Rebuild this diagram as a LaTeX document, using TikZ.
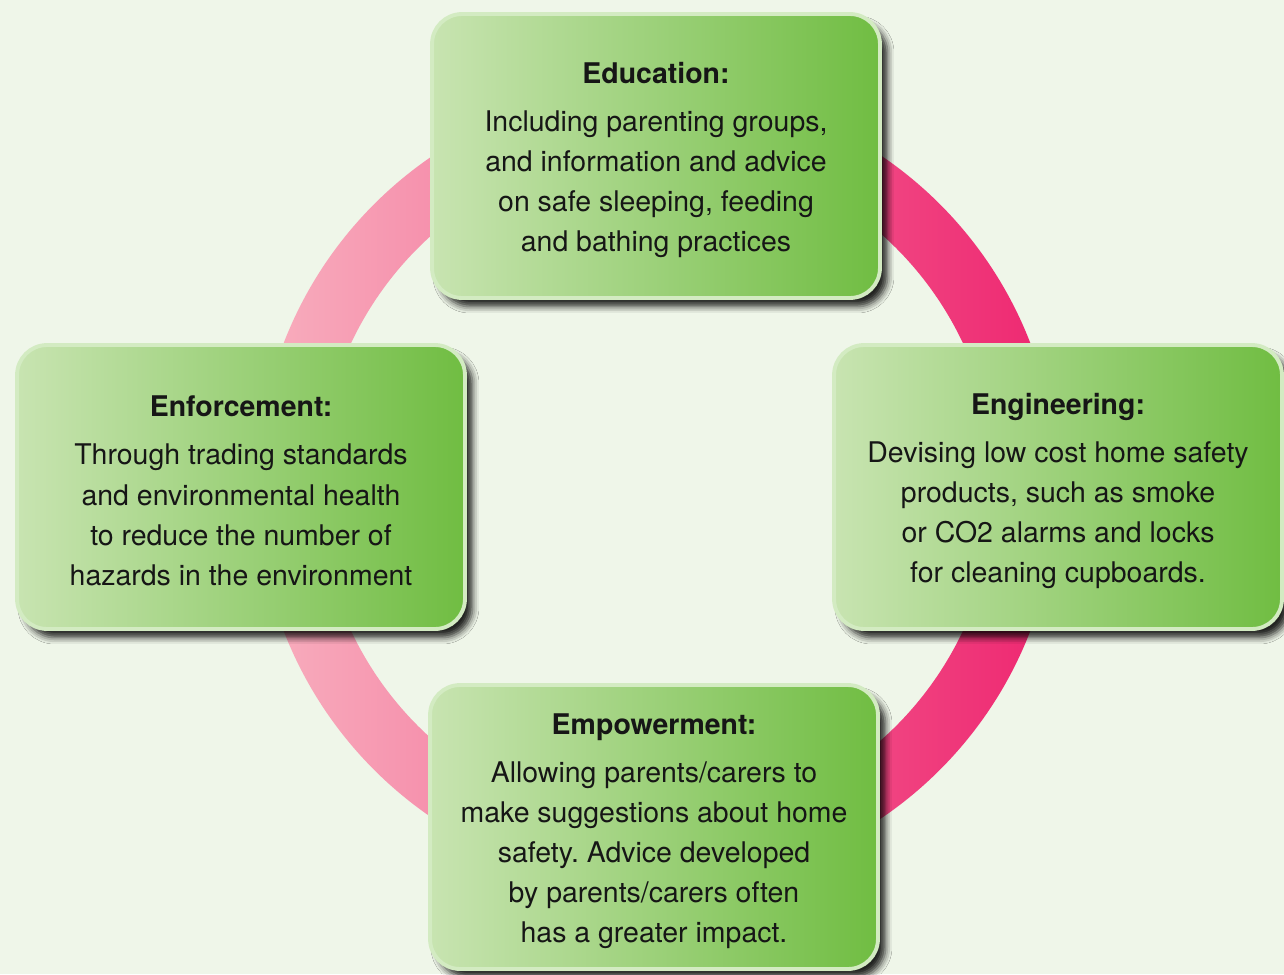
\documentclass[tikz,border=0pt]{standalone}
\usepackage{fontspec}
\setmainfont{TeX Gyre Heros}
\usetikzlibrary{%
  shadows.blur,% soft drop shadow
  positioning%
}
\frenchspacing
\definecolor{pagebg}{HTML}{EFF6E9}
\definecolor{ringlight}{HTML}{F8AFBE}
\definecolor{ringdark}{HTML}{EE2670}
\definecolor{cardlight}{HTML}{C8E4B1}
\definecolor{carddark}{HTML}{70BD42}
\definecolor{cardrim}{HTML}{D3EBC2}
\definecolor{inktext}{HTML}{161616}
\newcommand{\cardhead}[1]{\rule{0pt}{0.57cm}\textbf{#1}\\[0.16cm]}

\begin{document}
\begin{tikzpicture}
[x=0.02cm, y=-0.02cm, font=\fontsize{16.2}{22.8}\selectfont, text=inktext,
card/.style={rectangle, rounded corners=0.6cm, draw=cardrim, line width=2.2pt,
  left color=cardlight, right color=carddark, align=center, inner sep=0pt,
  minimum width=8.96cm, minimum height=5.68cm,
  blur shadow={shadow xshift=0.15cm, shadow yshift=-0.17cm, shadow blur radius=0.13cm, shadow opacity=85}}]

% page
\fill[pagebg] (0,0) rectangle (1284,974);
\useasboundingbox (0,0) rectangle (1284,974);

% ring behind the cards
\coordinate (hub) at (657,487);
\path[left color=ringlight, right color=ringdark, even odd rule]
  (hub) circle (400) (hub) circle (338);

% the four cards
\node[card] (edu) at (656,156)
  {\cardhead{Education:}Including parenting groups,\\and information and advice\\on safe sleeping, feeding\\and bathing practices};
\node[card] (enf) at (241,487)
  {\cardhead{Enforcement:}Through trading standards\\and environmental health\\to reduce the number of\\hazards in the environment};
\node[card] (eng) at (1058,487)
  {\cardhead{Engineering:}Devising low cost home safety\\products, such as smoke\\or CO2 alarms and locks\\for cleaning cupboards.};
\node[card] (emp) at (654,827)
  {\cardhead{Empowerment:}Allowing parents/carers to\\make suggestions about home\\safety. Advice developed\\by parents/carers often\\has a greater impact.};
\end{tikzpicture}
\end{document}
